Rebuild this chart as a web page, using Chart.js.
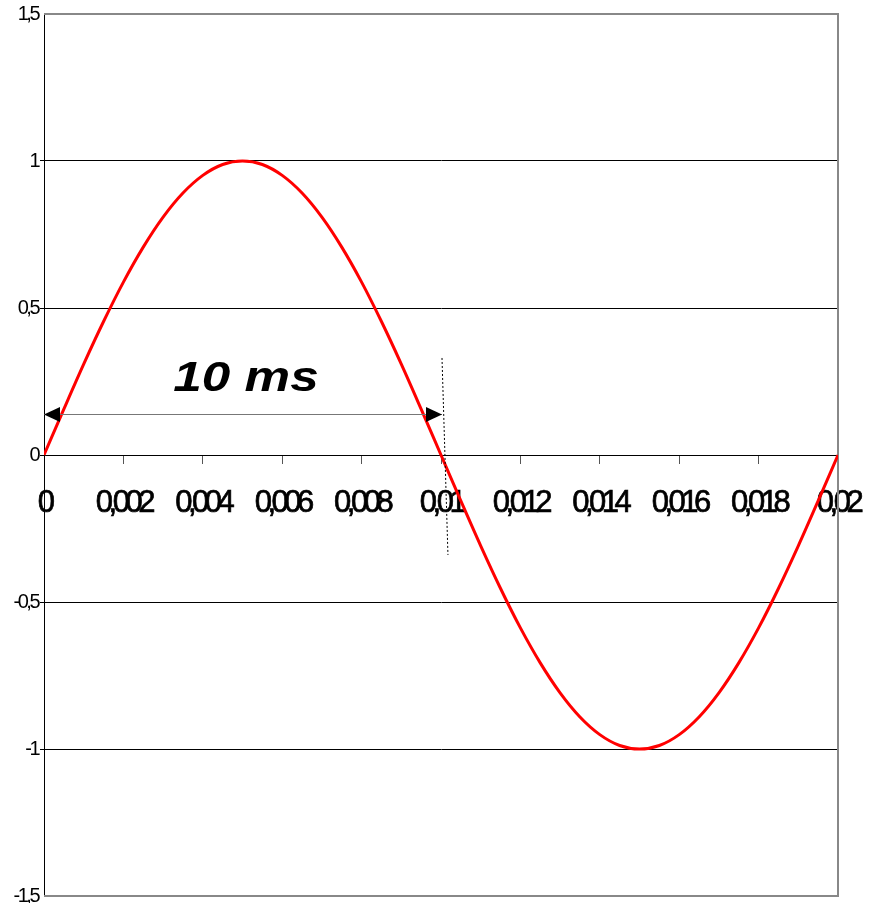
<!DOCTYPE html>
<html>
<head>
<meta charset="utf-8">
<script src="https://cdn.jsdelivr.net/npm/chart.js@4/dist/chart.umd.min.js"></script>
<style>
  html, body { margin: 0; padding: 0; background: #fff; }
  #wrap { width: 882px; height: 903px; }
</style>
</head>
<body>
<div id="wrap"><canvas id="chart" width="882" height="903"></canvas></div>
<script>
// time in s, read every 0,5 ms off the picture
var times = [0, 0.0005, 0.001, 0.0015, 0.002, 0.0025, 0.003, 0.0035, 0.004, 0.0045,
  0.005, 0.0055, 0.006, 0.0065, 0.007, 0.0075, 0.008, 0.0085, 0.009, 0.0095,
  0.01, 0.0105, 0.011, 0.0115, 0.012, 0.0125, 0.013, 0.0135, 0.014, 0.0145,
  0.015, 0.0155, 0.016, 0.0165, 0.017, 0.0175, 0.018, 0.0185, 0.019, 0.0195, 0.02];
var voltage = [0, 0.156, 0.309, 0.454, 0.588, 0.707, 0.809, 0.891, 0.951, 0.988,
  1, 0.988, 0.951, 0.891, 0.809, 0.707, 0.588, 0.454, 0.309, 0.156,
  0, -0.156, -0.309, -0.454, -0.588, -0.707, -0.809, -0.891, -0.951, -0.988,
  -1, -0.988, -0.951, -0.891, -0.809, -0.707, -0.588, -0.454, -0.309, -0.156, 0];
var xTicks = [0, 0.002, 0.004, 0.006, 0.008, 0.01, 0.012, 0.014, 0.016, 0.018, 0.02];
var yTicks = [-1.5, -1, -0.5, 0, 0.5, 1, 1.5];
var spanLabel = '10 ms';

function comma(v){
  return String(+v.toFixed(4)).replace('.', ',');
}

var points = [];
for (var i = 0; i < times.length; i++) {
  points.push({x: times[i], y: voltage[i]});
}

// squeeze the tick labels like the old spreadsheet export
function squeeze(scale, spacing){
  if (scale._squeezed) return;
  var orig = scale.drawLabels;
  scale.drawLabels = function(area){
    var c = this.ctx;
    c.save();
    c.letterSpacing = spacing;
    orig.call(this, area);
    c.restore();
  };
  scale._squeezed = true;
}

// gray frame and the 10 ms marker
var decor = {
  id: 'decor',
  beforeDraw: function(chart){
    squeeze(chart.scales.x, '-4.5px');
    squeeze(chart.scales.y, '-2.5px');
  },
  beforeDatasetsDraw: function(chart){
    var ctx = chart.ctx, a = chart.chartArea;
    ctx.save();
    ctx.strokeStyle = '#888';
    ctx.lineWidth = 2;
    ctx.beginPath();
    ctx.moveTo(a.left, a.top);
    ctx.lineTo(a.right, a.top);
    ctx.lineTo(a.right, a.bottom);
    ctx.lineTo(a.left, a.bottom);
    ctx.stroke();
    ctx.restore();
  },
  afterDraw: function(chart){
    var ctx = chart.ctx;
    var xs = chart.scales.x, ys = chart.scales.y;
    ctx.save();

    var x0 = xs.getPixelForValue(0), x1 = xs.getPixelForValue(0.01) + 1;
    var ya = Math.round(ys.getPixelForValue(0.14)) + 0.5;
    ctx.strokeStyle = '#777';
    ctx.lineWidth = 1;
    ctx.beginPath();
    ctx.moveTo(x0, ya);
    ctx.lineTo(x1, ya);
    ctx.stroke();

    ctx.fillStyle = '#000';
    ctx.beginPath();
    ctx.moveTo(x0, ya);
    ctx.lineTo(x0 + 16, ya - 7.5);
    ctx.lineTo(x0 + 16, ya + 7.5);
    ctx.closePath();
    ctx.fill();
    ctx.beginPath();
    ctx.moveTo(x1, ya);
    ctx.lineTo(x1 - 16, ya - 7.5);
    ctx.lineTo(x1 - 16, ya + 7.5);
    ctx.closePath();
    ctx.fill();

    ctx.strokeStyle = '#000';
    ctx.setLineDash([2, 2]);
    ctx.beginPath();
    ctx.moveTo(xs.getPixelForValue(0.01) + 1, ys.getPixelForValue(0.33));
    ctx.lineTo(xs.getPixelForValue(0.01015) + 1, ys.getPixelForValue(-0.34));
    ctx.stroke();
    ctx.setLineDash([]);

    ctx.translate((x0 + x1) / 2 + 3, ys.getPixelForValue(0.22) + 1);
    ctx.scale(1.22, 1);
    ctx.font = 'italic bold 42px "Liberation Sans", Arial, sans-serif';
    ctx.textAlign = 'center';
    ctx.textBaseline = 'alphabetic';
    ctx.fillText(spanLabel, 0, 0);
    ctx.restore();
  }
};

var ctx = document.getElementById('chart').getContext('2d');
var myChart = new Chart(ctx, {
  type: 'scatter',
  data: {
    datasets: [{
      data: points,
      showLine: true,
      borderColor: '#ff0000',
      borderWidth: 3,
      pointRadius: 0,
      cubicInterpolationMode: 'monotone'
    }]
  },
  options: {
    responsive: false,
    animation: false,
    layout: { padding: { left: 0, top: 14, right: 44, bottom: 7 } },
    plugins: { legend: { display: false }, tooltip: { enabled: false } },
    scales: {
      x: {
        type: 'linear',
        position: { y: 0 },
        min: 0,
        max: 0.02,
        afterBuildTicks: function(scale){
          scale.ticks = xTicks.map(function(v){ return {value: v}; });
        },
        afterFit: function(scale){
          scale.paddingLeft = 0;
          scale.paddingRight = 0;
        },
        ticks: {
          color: '#000',
          textStrokeColor: '#000',
          textStrokeWidth: 0.7,
          padding: 22,
          maxRotation: 0,
          autoSkip: false,
          font: { family: '"Liberation Sans", Arial, sans-serif', size: 31 },
          callback: function(v){ return comma(v); }
        },
        grid: { drawOnChartArea: false, drawTicks: true, tickLength: 8, color: '#555' },
        border: { display: true, color: '#000', width: 1 }
      },
      y: {
        min: -1.5,
        max: 1.5,
        afterBuildTicks: function(scale){
          scale.ticks = yTicks.map(function(v){ return {value: v}; });
        },
        afterFit: function(scale){
          scale.width = 44;
          scale.paddingTop = 0;
          scale.paddingBottom = 0;
        },
        ticks: {
          color: '#000',
          padding: 2,
          font: { family: '"Liberation Sans", Arial, sans-serif', size: 20 },
          callback: function(v){ return comma(v); }
        },
        grid: {
          tickLength: 4,
          color: function(c){
            if (c.tick && Math.abs(c.tick.value) === 1.5) return 'rgba(0,0,0,0)';
            return '#000';
          },
          lineWidth: 1
        },
        border: { display: true, color: '#000', width: 1 }
      }
    }
  },
  plugins: [decor]
});
</script>
</body>
</html>
